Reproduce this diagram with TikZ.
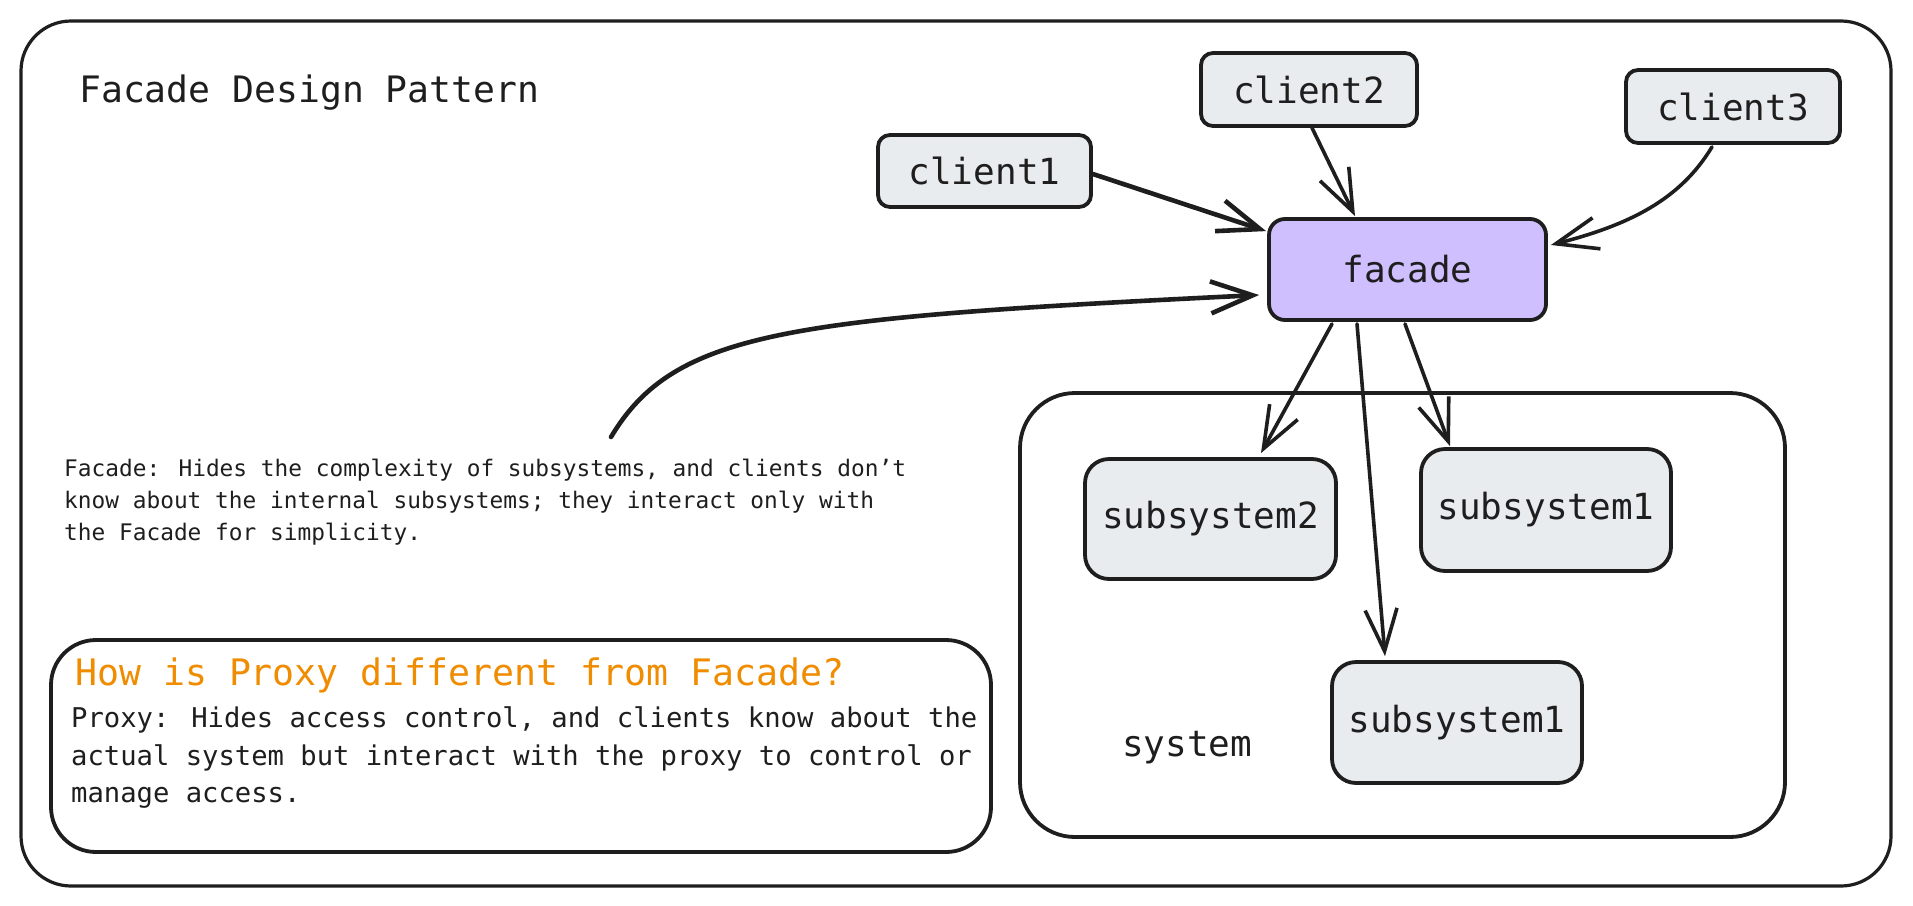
\documentclass[tikz,border=0pt]{standalone}
\usepackage{fontspec}
\usetikzlibrary{arrows.meta,calc}
\newfontfamily\handfont{DejaVu Sans Mono}
\definecolor{ink}{HTML}{1E1E1E}
\definecolor{boxgray}{HTML}{E9ECEF}
\definecolor{facadefill}{HTML}{D0BFFF}
\definecolor{orangetxt}{HTML}{F08C00}
\begin{document}
\begin{tikzpicture}[x=1pt,y=-1pt,
  frame/.style={draw=ink, line width=3.2pt},
  boxnode/.style={draw=ink, fill=boxgray, line width=3.8pt, rounded corners=#1, inner sep=0pt,
    font=\handfont\fontsize{36}{40}\selectfont, text=ink},
  boxnode/.default=12pt,
  plain/.style={inner sep=0pt, text=ink, align=left},
  conn/.style={draw=ink, line width=3.6pt, line cap=round, line join=round,
    -{Straight Barb[length=42pt,width=32pt]}},
]
\useasboundingbox (0,0) rectangle (1913,905);
\fill[white] (0,0) rectangle (1913,905);

% outer frame
\draw[frame, rounded corners=50pt] (21,21) rectangle (1891,886);
% title
\node[plain, anchor=base west, font=\handfont\fontsize{36.4}{40}\selectfont] (title) at (79,102) {Facade Design Pattern};

% clients
\node[boxnode, minimum width=213pt, minimum height=72pt] (client1) at (984.5,171) {client1};
\node[boxnode, minimum width=216pt, minimum height=73pt] (client2) at (1309,89.5) {client2};
\node[boxnode, minimum width=214pt, minimum height=73pt] (client3) at (1733,106.5) {client3};

% facade
\node[boxnode=16pt, fill=facadefill, minimum width=277pt, minimum height=101pt] (facade) at (1407.5,269.5) {facade};

% system frame
\draw[frame, line width=3.8pt, rounded corners=55pt] (1020,393) rectangle (1785,837);
\node[plain, anchor=base west, font=\handfont\fontsize{36}{40}\selectfont] (syslabel) at (1122,756) {system};

% subsystems
\node[boxnode=24pt, minimum width=251pt, minimum height=120pt] (sub2) at (1210.5,519) {subsystem2};
\node[boxnode=24pt, minimum width=250pt, minimum height=122pt] (sub1a) at (1546,510) {subsystem1};
\node[boxnode=24pt, minimum width=250pt, minimum height=121pt] (sub1b) at (1457,722.5) {subsystem1};

% description
\node[plain, anchor=north west, font=\handfont\fontsize{22.8}{32}\selectfont] (desc) at (64,459)
  {Facade: Hides the complexity of subsystems, and clients don’t\\
   know about the internal subsystems; they interact only with\\
   the Facade for simplicity.};
\coordinate (descstart) at (611,437);

% proxy box
\draw[frame, line width=3.8pt, rounded corners=45pt] (51,640) rectangle (991,852);
\node[plain, anchor=base west, text=orangetxt, font=\handfont\fontsize{36.5}{40}\selectfont] (proxyhead) at (75,685)
  {How is Proxy different from Facade?};
\node[plain, anchor=north west, font=\handfont\fontsize{27.2}{37.5}\selectfont] (proxytext) at (71,706.5)
  {Proxy: Hides access control, and clients know about the\\
   actual system but interact with the proxy to control or\\
   manage access.};

% connectors
\draw[conn, line width=4.6pt] ($(client1.east)+(0,3)$) -- ($(facade.north west)+(-1,14)$);
\draw[conn] ($(client2.south)+(3,0)$) -- ($(facade.north)+(-52.5,-1)$);
\draw[conn] ($(client3.south)+(-21,2)$) .. controls (1680,200) and (1629,225) .. ($(facade.east)+(3,-24.5)$);
\draw[conn, line width=4.6pt] (descstart) .. controls (675,330) and (790,318) .. ($(facade.west)+(-8,25.5)$);
\draw[conn] ($(facade.south)+(-75.5,2)$) -- ($(sub2.north)+(50.5,-4)$);
\draw[conn] ($(facade.south)+(-50.5,2)$) -- ($(sub1b.north)+(-72,-4)$);
\draw[conn] ($(facade.south)+(-2.5,2)$) -- ($(sub1a.north)+(-96,-1)$);
\end{tikzpicture}
\end{document}
